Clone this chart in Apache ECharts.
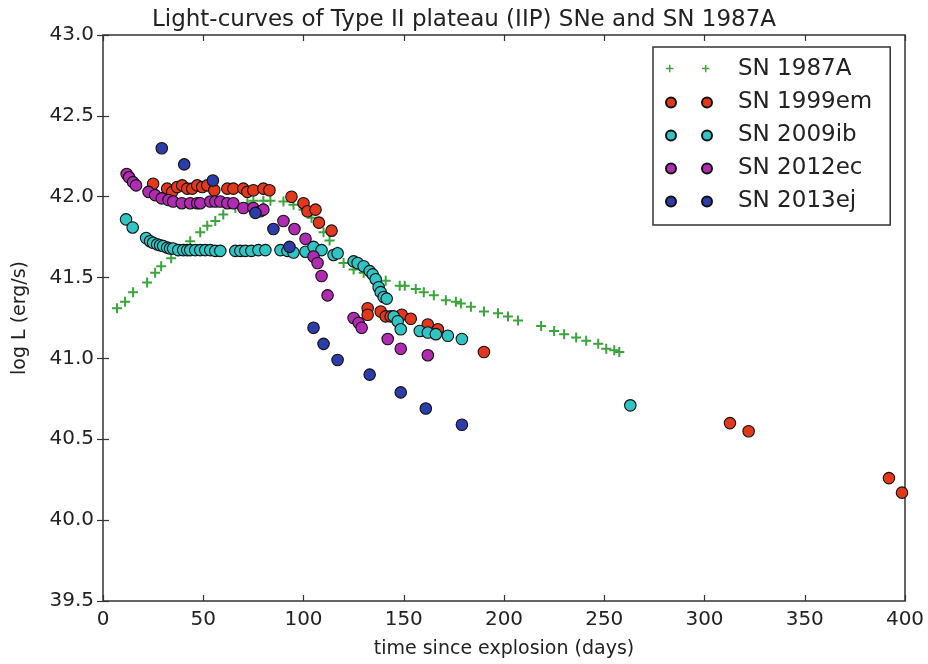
<!DOCTYPE html>
<html>
<head>
<meta charset="utf-8">
<script src="https://cdn.jsdelivr.net/npm/echarts@6/dist/echarts.min.js"></script>
<style>html,body{margin:0;padding:0;background:#fff;}#c{width:928px;height:664px;}</style>
</head>
<body>
<div id="c"></div>
<script>
// Data: [days since explosion, log L (erg/s)]
const sn1987A = [[7,41.31],[11,41.35],[15,41.41],[22,41.47],[26,41.53],[29,41.57],[34,41.62],[38,41.67],[43.5,41.725],[48.5,41.78],[52,41.82],[56,41.85],[60,41.89],[66,41.93],[72,41.96],[75,41.975],[80,41.975],[83.5,41.975],[90,41.97],[95,41.95],[100,41.92],[104,41.87],[110,41.78],[113,41.73],[117,41.66],[120,41.59],[125,41.55],[130,41.53],[135,41.50],[141,41.48],[148,41.45],[150.5,41.45],[156,41.43],[160,41.41],[165,41.39],[171,41.36],[176,41.35],[178.5,41.34],[183.5,41.32],[190,41.29],[197,41.28],[202,41.26],[207,41.235],[218.5,41.20],[225,41.17],[230,41.15],[236,41.13],[241,41.11],[247,41.09],[251,41.06],[255,41.05],[257.5,41.04]];
const sn1999em = [[25,42.08],[32,42.05],[34.5,42.03],[37,42.06],[39.5,42.07],[42,42.05],[44.5,42.05],[47,42.07],[49.5,42.06],[52,42.07],[55.5,42.04],[62,42.05],[65,42.05],[70,42.05],[72,42.03],[75,42.04],[80,42.05],[83,42.04],[94,42.00],[100,41.96],[102,41.91],[106,41.92],[107.7,41.84],[114,41.79],[132,41.31],[132,41.27],[138.5,41.29],[141,41.26],[143.5,41.26],[149,41.27],[153.5,41.245],[162,41.21],[167,41.18],[190,41.04],[312.7,40.60],[322,40.55],[392,40.26],[398.5,40.17]];
const sn2009ib = [[11.5,41.86],[14.8,41.81],[21.5,41.745],[23.5,41.725],[25,41.715],[27,41.705],[28.5,41.70],[30,41.695],[32,41.685],[33.5,41.68],[35,41.68],[37.5,41.67],[40,41.67],[42,41.67],[43.5,41.67],[46,41.67],[48.5,41.67],[51,41.67],[53.5,41.67],[56,41.665],[58.5,41.665],[66,41.665],[68.5,41.665],[71,41.665],[74,41.665],[77.5,41.67],[81,41.67],[88.5,41.67],[92,41.665],[95,41.655],[101,41.66],[105,41.69],[109,41.67],[115,41.64],[117,41.65],[125,41.60],[127,41.59],[130,41.57],[133,41.54],[134.5,41.52],[136,41.49],[137.5,41.44],[138.5,41.41],[140,41.38],[141.5,41.37],[145,41.26],[147,41.23],[148.5,41.18],[158,41.17],[162,41.16],[166,41.15],[172,41.14],[179,41.12],[263,40.71]];
const sn2012ec = [[11.8,42.14],[13,42.12],[15,42.09],[16.5,42.07],[22.7,42.03],[26,42.01],[29.3,41.99],[32.7,41.98],[35,41.97],[39.3,41.96],[43.5,41.96],[47,41.96],[48.5,41.96],[53.5,41.97],[56,41.97],[58.5,41.97],[62,41.96],[65,41.96],[70,41.93],[75,41.93],[78.5,41.91],[80,41.92],[90,41.85],[95.5,41.80],[101,41.74],[105,41.63],[107,41.59],[109,41.51],[112,41.39],[125,41.25],[127.5,41.22],[129,41.19],[142,41.12],[148.5,41.06],[162,41.02]];
const sn2013ej = [[29.3,42.30],[40.5,42.20],[54.8,42.10],[76,41.90],[85,41.80],[93,41.69],[105,41.19],[110,41.09],[117,40.99],[133,40.90],[148.5,40.79],[161,40.69],[179,40.59]];
const seriesNames = ['SN 1987A','SN 1999em','SN 2009ib','SN 2012ec','SN 2013ej'];
const xTicks = {min:0, max:400, interval:50};
const yTicks = {min:39.5, max:43.0, interval:0.5};

const FONT = 'DejaVu Sans';
const plusPath = 'path://M4,0h2v4h4v2h-4v4h-2v-4h-4v-2h4z';
const twoCircles = 'path://M0,5a5,5 0 1,0 10,0a5,5 0 1,0 -10,0M36,5a5,5 0 1,0 10,0a5,5 0 1,0 -10,0';
const twoPlus = 'path://M3,0h1.4v3h3v1.4h-3v3h-1.4v-3h-3v-1.4h3zM39,0h1.4v3h3v1.4h-3v3h-1.4v-3h-3v-1.4h3zM0,9.5h0.01M46,9.5h0.01';

function circleSeries(name, data, color){
  return {name, type:'scatter', data, symbol:'circle', symbolSize:11.5,
    itemStyle:{color, borderColor:'#111', borderWidth:1.1, opacity:1}};
}
const chart = echarts.init(document.getElementById('c'), null, {renderer:'canvas'});
const axisCommon = {
  axisLine:{show:false},
  splitLine:{show:false},
  axisTick:{show:true, inside:true, length:6, lineStyle:{color:'#333', width:1.2}},
};
chart.setOption({
  backgroundColor:'#fff',
  animation:false,
  title:{text:'Light-curves of Type II plateau (IIP) SNe and SN 1987A', left:'center', top:4,
    textStyle:{fontFamily:FONT, fontSize:23, fontWeight:'normal', color:'#222'}},
  grid:{left:103, right:23, top:35, bottom:52, show:true, borderColor:'#333', borderWidth:1.5, backgroundColor:'#fff'},
  legend:{orient:'vertical', left:653, top:47,
    backgroundColor:'#fff', borderColor:'#333', borderWidth:1.5, borderRadius:0,
    padding:[11,18,12,12], itemGap:10, itemWidth:46, itemHeight:10,
    textStyle:{fontFamily:FONT, fontSize:23, color:'#222', padding:[0,0,0,21]},
    data:[
      {name:seriesNames[0], icon:twoPlus},
      {name:seriesNames[1], icon:twoCircles},
      {name:seriesNames[2], icon:twoCircles},
      {name:seriesNames[3], icon:twoCircles},
      {name:seriesNames[4], icon:twoCircles}
    ]},
  xAxis:[
    Object.assign({type:'value', position:'bottom', min:xTicks.min, max:xTicks.max, interval:xTicks.interval,
      name:'time since explosion (days)', nameLocation:'middle', nameGap:39,
      nameTextStyle:{fontFamily:FONT, fontSize:19, color:'#222'},
      axisLabel:{fontFamily:FONT, fontSize:20, color:'#222', margin:9}}, axisCommon),
    Object.assign({type:'value', position:'top', min:xTicks.min, max:xTicks.max, interval:xTicks.interval,
      axisLabel:{show:false}}, axisCommon)
  ],
  yAxis:[
    Object.assign({type:'value', position:'left', min:yTicks.min, max:yTicks.max, interval:yTicks.interval,
      name:'log L (erg/s)', nameLocation:'middle', nameGap:73,
      nameTextStyle:{fontFamily:FONT, fontSize:19, color:'#222'},
      axisLabel:{fontFamily:FONT, fontSize:20, color:'#222', margin:9, formatter:v=>v.toFixed(1)}}, axisCommon),
    Object.assign({type:'value', position:'right', min:yTicks.min, max:yTicks.max, interval:yTicks.interval,
      axisLabel:{show:false}}, axisCommon)
  ],
  series:[
    {name:seriesNames[0], type:'scatter', data:sn1987A, symbol:plusPath, symbolSize:10,
      itemStyle:{color:'#3aa53a', opacity:1}},
    circleSeries(seriesNames[1], sn1999em, '#e4381c'),
    circleSeries(seriesNames[2], sn2009ib, '#30c4c4'),
    circleSeries(seriesNames[3], sn2012ec, '#b02ab2'),
    circleSeries(seriesNames[4], sn2013ej, '#2c3ca8')
  ]
});
</script>
</body>
</html>
